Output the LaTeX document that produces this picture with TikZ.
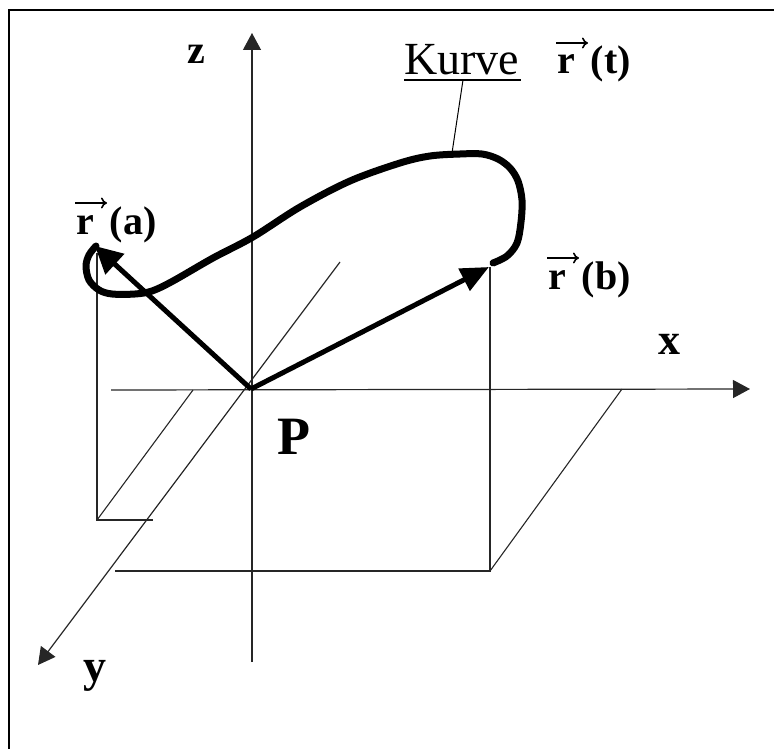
\documentclass[tikz,border=0pt]{standalone}
\usepackage{fontspec}
\setmainfont{Liberation Serif}
\usetikzlibrary{arrows.meta,calc}
\begin{document}
\begin{tikzpicture}[x=1pt,y=-1pt,
  thinline/.style={line width=1.1pt,black!85},
  axis/.style={line width=1.2pt,black!85,-{Triangle[length=17pt,width=18pt]}},
  vecarrow/.style={line width=5pt,-{Triangle[length=27pt,width=27pt]}},
  vecsign/.style={line width=1.6pt,-{To[length=6pt,width=11pt]}},
  curveline/.style={line width=7pt,line cap=round,line join=round},
  lbl/.style={font=\bfseries\fontsize{40}{40}\selectfont,inner sep=0pt,anchor=base west},
  axlbl/.style={font=\bfseries\fontsize{#1}{#1}\selectfont,inner sep=0pt}]
\useasboundingbox (0,0) rectangle (774,749);
% frame
\draw[line width=1.5pt] (9,749) -- (9,10) -- (774,10);
% coordinates
\coordinate (O) at (251,389);
\coordinate (zt) at (252,33);
\coordinate (zb) at (252,662);
\coordinate (xt) at (750,389);
\coordinate (xl) at (111,390);
\coordinate (yt) at (38,665);
\coordinate (yu) at (340,262);
\coordinate (A) at (95,246);
\coordinate (B) at (489,267);
\coordinate (Atop) at (97,253);
\coordinate (Afoot) at (97,520);
\coordinate (Ax) at (193,390);
\coordinate (Ay) at (153,520);
\coordinate (Btop) at (490,267);
\coordinate (Bfoot) at (490,571);
\coordinate (Bx) at (622,389);
\coordinate (By) at (115,571);
% axes
\draw[axis] (xl) -- (xt);
\draw[axis] (zb) -- (zt);
\draw[axis] (yu) -- (yt);
% projection lines
\draw[thinline] (Atop) -- (Afoot) -- (Ay);
\draw[thinline] (Afoot) -- (Ax);
\draw[thinline] (Btop) -- (Bfoot) -- (By);
\draw[thinline] (Bfoot) -- (Bx);
% curve
\draw[curveline] plot[smooth,tension=0.55] coordinates {
 (96,246) (89,255) (86,266) (89,280) (99,290) (112,294) (135,294) (152,291)
 (173,281) (213,258) (253,237) (300,207) (350,181) (400,163) (430,156)
 (460,154) (482,154) (498,159) (510,168) (518,181) (522,200) (521,222)
 (517,243) (507,256) (493,263)};
% vectors
\draw[vecarrow] (O) -- (A);
\draw[vecarrow,-{Triangle[length=28pt,width=24pt]}] (O) -- (B);
% Kurve label
\node[font=\fontsize{46}{46}\selectfont,inner sep=0pt,anchor=base west] (kurve) at (404,75) {Kurve};
\coordinate (ul) at (404,80);
\coordinate (ur) at (521,80);
\draw[line width=1.4pt] (ul) -- (ur);
\coordinate (kc) at (452,153);
\coordinate (ku) at (463,80);
\draw[line width=1pt] (kc) -- (ku);
% labels
\node[lbl] (rt) at (557,74) {r\hspace{0.4em}(t)};
\node[lbl] (ra) at (76,234) {r\hspace{0.4em}(a)};
\node[lbl] (rb) at (548,289) {r\hspace{0.4em}(b)};
\foreach \n in {rt,ra,rb}
  \draw[vecsign] ($(\n.base west)+(-1,-31)$) -- ($(\n.base west)+(31,-31)$);
\node[axlbl=40] (lz) at (196,54) {z};
\node[axlbl=44] (lx) at (669,344) {x};
\node[axlbl=46] (ly) at (95,676) {y};
\node[axlbl=54] (lP) at (294,437) {P};
\end{tikzpicture}
\end{document}
